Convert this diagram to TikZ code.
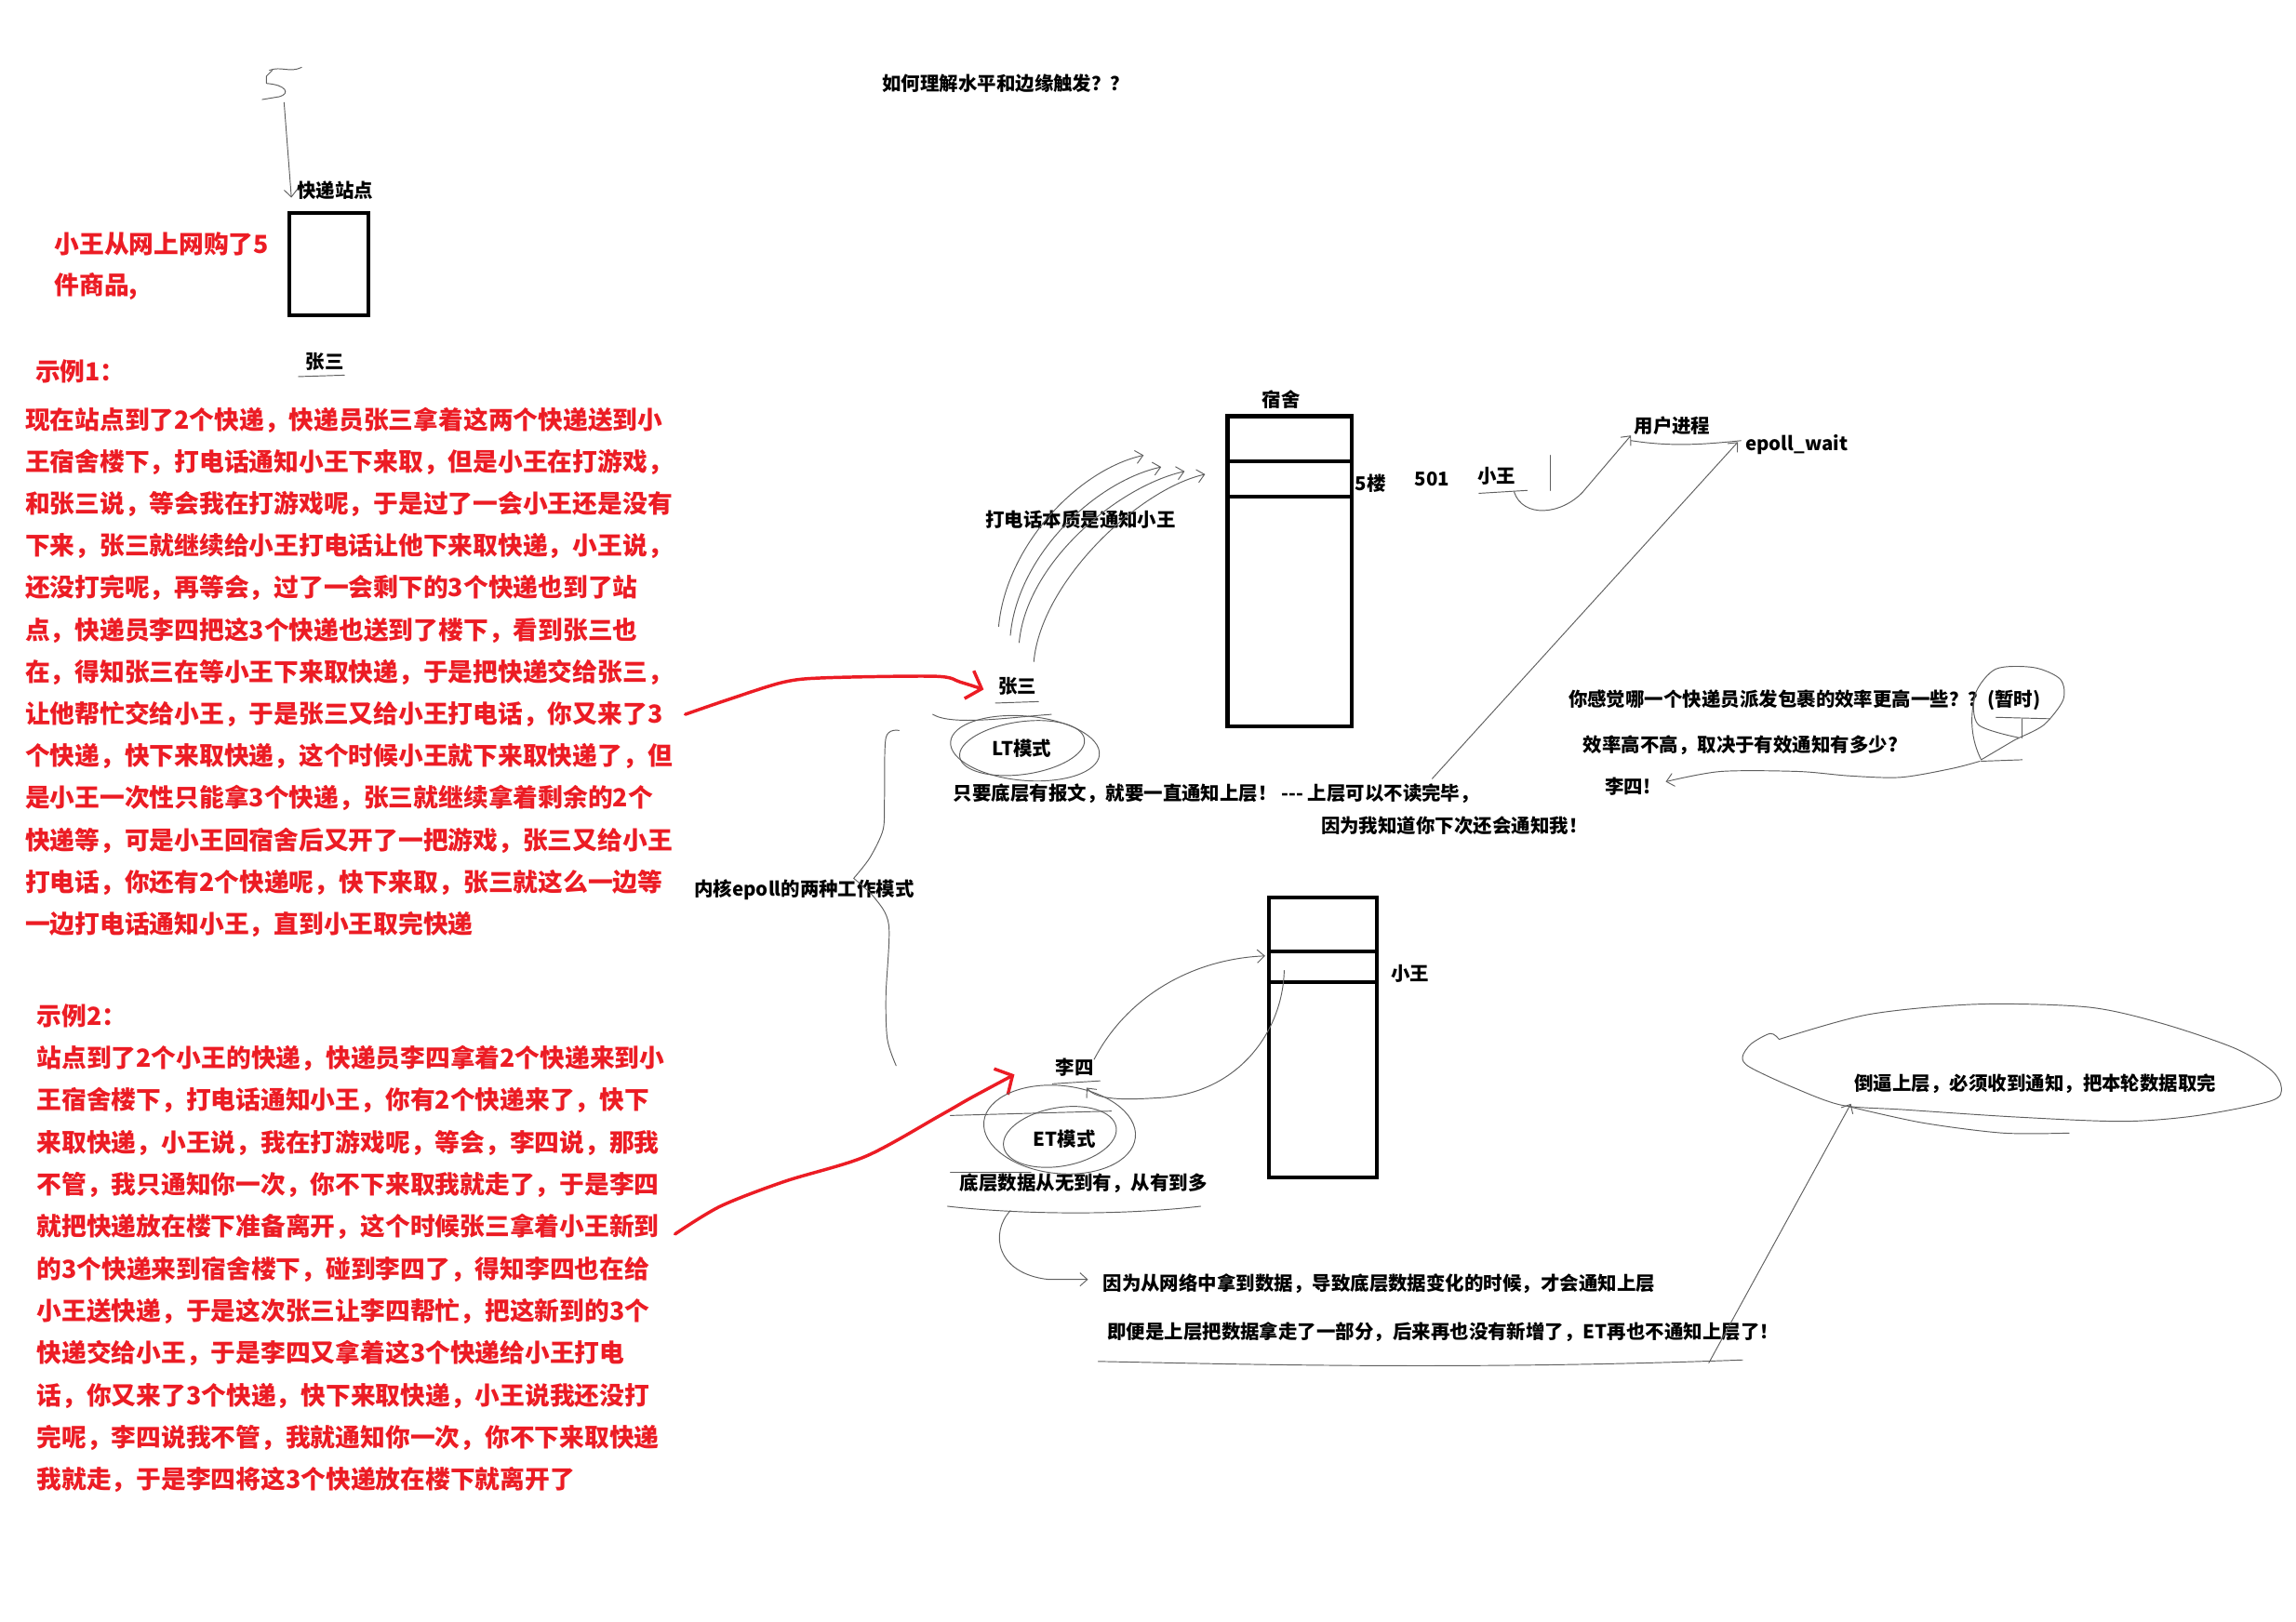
\documentclass[tikz,border=0pt]{standalone}
\usepackage{fontspec}
\setmainfont{Noto Sans CJK SC}
\usetikzlibrary{arrows.meta, positioning, calc}
\definecolor{redink}{RGB}{236,28,36}
\definecolor{penline}{RGB}{95,95,95}

\tikzset{
  lbl/.style={inner sep=0pt, font=\bfseries\fontsize{13}{15}\selectfont},
  leftlbl/.style={lbl, anchor=west},
  redline/.style={inner sep=0pt, anchor=west, text=redink, font=\bfseries\fontsize{17}{20}\selectfont},
  pen/.style={draw=penline, line width=0.6pt, line cap=round, line join=round},
  penarrow/.style={pen, -{Straight Barb[length=5pt, width=9pt]}},
  wall/.style={draw=black, line width=2.6pt},
  redpen/.style={draw=redink, line width=2.2pt, line cap=round, line join=round,
    -{Straight Barb[length=9pt, width=20pt]}},
}

\begin{document}
\begin{tikzpicture}[x=1pt, y=-1pt]
\fill[white] (0,0) rectangle (1568,1108);
\useasboundingbox (0,0) rectangle (1568,1108);

% title
\node[lbl] (title) at (687,57) {如何理解水平和边缘触发？？};

% the station
\node[lbl] (stationlbl) at (229,130) {快递站点};
\node[wall, minimum width=54, minimum height=70, anchor=north west] (station) at (196,144) {};
\node[lbl] (zs0) at (222,247) {张三};
\draw[pen] ($(zs0.south west)+(-5,4)$) -- ($(zs0.south east)+(0,3)$);
\draw[pen] (184,48) .. controls (192,45) and (198,50) .. (206,46);
\draw[pen] (186,48) -- (182,52) -- (182,57) .. controls (196,58) and (198,64) .. (191,66) -- (179,68);
\coordinate (fivefoot) at (194,70);
\coordinate (stationin) at (199,135);
\draw[penarrow] (fivefoot) -- (stationin);

% story text
\node[redline] (buy1) at (37,167) {小王从网上网购了5};
\node[redline] (buy2) at (37,196) {件商品,};
\node[redline] (ex1) at (24,254) {示例1：};
\foreach \ln [count=\k] in {
  现在站点到了2个快递，快递员张三拿着这两个快递送到小,
  王宿舍楼下，打电话通知小王下来取，但是小王在打游戏，,
  和张三说，等会我在打游戏呢，于是过了一会小王还是没有,
  下来，张三就继续给小王打电话让他下来取快递，小王说，,
  还没打完呢，再等会，过了一会剩下的3个快递也到了站,
  点，快递员李四把这3个快递也送到了楼下，看到张三也,
  在，得知张三在等小王下来取快递，于是把快递交给张三，,
  让他帮忙交给小王，于是张三又给小王打电话，你又来了3,
  个快递，快下来取快递，这个时候小王就下来取快递了，但,
  是小王一次性只能拿3个快递，张三就继续拿着剩余的2个,
  快递等，可是小王回宿舍后又开了一把游戏，张三又给小王,
  打电话，你还有2个快递呢，快下来取，张三就这么一边等,
  一边打电话通知小王，直到小王取完快递}
  \node[redline] (exa\k) at (17,{287+28.7*(\k-1)}) {\ln};
\node[redline] (ex2) at (25,694) {示例2：};
\foreach \ln [count=\k] in {
  站点到了2个小王的快递，快递员李四拿着2个快递来到小,
  王宿舍楼下，打电话通知小王，你有2个快递来了，快下,
  来取快递，小王说，我在打游戏呢，等会，李四说，那我,
  不管，我只通知你一次，你不下来取我就走了，于是李四,
  就把快递放在楼下准备离开，这个时候张三拿着小王新到,
  的3个快递来到宿舍楼下，碰到李四了，得知李四也在给,
  小王送快递，于是这次张三让李四帮忙，把这新到的3个,
  快递交给小王，于是李四又拿着这3个快递给小王打电,
  话，你又来了3个快递，快下来取快递，小王说我还没打,
  完呢，李四说我不管，我就通知你一次，你不下来取快递,
  我就走，于是李四将这3个快递放在楼下就离开了}
  \node[redline] (exb\k) at (25,{723+28.8*(\k-1)}) {\ln};

% dorm
\node[lbl] (dormlbl) at (875,273) {宿舍};
\node[wall, minimum width=85, minimum height=212, anchor=north west] (dorm) at (837,283) {};
\draw[wall] (dorm.west |- 0,315) -- (dorm.east |- 0,315);
\draw[wall] (dorm.west |- 0,339) -- (dorm.east |- 0,339);
\node[lbl] (floor5) at (936,330) {5楼};
\node[lbl] (room) at (978,327) {501};
\node[lbl] (xw) at (1022,325) {小王};
\draw[pen] (1059,311) -- (1059,335);
\draw[pen] (1010,337) -- (1043,335);
\node[lbl] (proc) at (1142,291) {用户进程};
\node[lbl] (ew) at (1227,304) {epoll\_wait};
\draw[penarrow] (1034,336) .. controls (1040,354) and (1066,352) .. (1081,336) -- ($(proc.south west)+(-2,0)$);
\draw[pen] (1114,301) .. controls (1140,305) and (1160,304) .. (1189,301);
\coordinate (ewin) at ($(ew.west)+(-5,-2)$);

% calls
\node[lbl] (callnote) at (738,355) {打电话本质是通知小王};
\foreach \sx/\sy/\ex/\ey in {682/428/781/311, 690/434/793/319, 696/439/809/322, 706/452/823/324}
  \draw[penarrow] (\sx,\sy) .. controls +(5,-55) and +(-45,10) .. (\ex,\ey);

% LT
\node[lbl] (zs) at (695,469) {张三};
\draw[pen] ($(zs.south west)+(-2,5)$) -- ($(zs.south east)+(1,4)$);
\coordinate (redA) at (468,488);
\coordinate (zsin) at ($(zs.west)+(-10,2)$);
\draw[redpen] plot[smooth] coordinates {(redA) (497,478) (535,466) (564,463) (639,462) (656,466) (zsin)};
\node[lbl] (lt) at (698,511) {LT模式};
\draw[pen, rotate around={-5:(lt.center)}] ([xshift=2pt]lt.center) ellipse [x radius=51, y radius=22];
\draw[pen, rotate around={8:(lt.center)}] (lt.center) ellipse [x radius=43, y radius=18];
\draw[pen] (637,488) .. controls (650,496) and (690,490) .. (718,488);
\node[leftlbl] (ltnote) at (651,542) {只要底层有报文，就要一直通知上层！ -{}-{}- 上层可以不读完毕，};
\node[leftlbl] (ltnote2) at (902,564) {因为我知道你下次还会通知我！};
\coordinate (ltup) at (978,532);
\draw[penarrow] (ltup) -- (ewin);

% two modes
\node[leftlbl] (modes) at (474,608) {内核epoll的两种工作模式};
\draw[pen] plot[smooth] coordinates {(614,499) (605,504) (604,547) (603,567) (594,586) (583,600)};
\draw[pen] plot[smooth] coordinates {(583,600) (597,613) (607,632) (605,680) (606,710) (612,728)};

% ET
\node[lbl] (hallxw) at (963,665) {小王};
\node[wall, minimum width=74, minimum height=191, anchor=north west] (hall) at (865,612) {};
\draw[wall] (hall.west |- 0,650) -- (hall.east |- 0,650);
\draw[wall] (hall.west |- 0,671) -- (hall.east |- 0,671);
\node[lbl] (ls) at (734,729) {李四};
\draw[pen] ($(ls.south west)+(-2,5)$) -- ($(ls.south east)+(4,3)$);
\coordinate (redB) at (461,843);
\coordinate (lsin) at ($(ls.west)+(-28,5)$);
\draw[redpen] plot[smooth] coordinates {(redB) (492,824) (536,807) (591,790) (642,762) (663,750) (lsin)};
\coordinate (hallin) at (877,663);
\coordinate (hallwall) at (864,653);
\draw[penarrow] ($(ls.north east)+(0,1)$) .. controls (770,680) and (815,655) .. (hallwall);
\draw[penarrow] (hallin) .. controls (876,705) and (845,748) .. (790,750) .. controls (760,752) and (748,750) .. (742,743);
\node[lbl] (et) at (727,778) {ET模式};
\draw[pen, rotate around={-6:(et.center)}] ([shift={(-4,-6)}]et.center) ellipse [x radius=52, y radius=30];
\draw[pen, rotate around={10:(et.center)}] ([shift={(-3,-2)}]et.center) ellipse [x radius=39, y radius=20];
\draw[pen] (649,762) -- (759,759);
\draw[pen] (649,801) -- (704,801);
\node[lbl] (etnote) at (740,808) {底层数据从无到有，从有到多};
\draw[pen] (647,824) .. controls (690,829) and (760,831) .. (820,824);
\node[leftlbl] (etwhy) at (753,877) {因为从网络中拿到数据，导致底层数据变化的时候，才会通知上层};
\draw[penarrow] (690,827) .. controls (676,842) and (680,870) .. (716,874) -- ($(etwhy.west)+(-10,-3)$);
\node[leftlbl] (etnote2) at (756,910) {即便是上层把数据拿走了一部分，后来再也没有新增了，ET再也不通知上层了！};
\draw[pen] (750,930) .. controls (850,932) and (1000,936) .. (1190,929);

% forcing
\node[lbl] (force) at (1390,740) {倒逼上层，必须收到通知，把本轮数据取完};
\draw[pen] plot[smooth] coordinates {(1215,710) (1276,693) (1350,686) (1426,688) (1476,699) (1526,716)
  (1551,731) (1558,743) (1551,752) (1501,762) (1450,766) (1376,763) (1300,758) (1258,755)
  (1225,743) (1195,729) (1190,722) (1196,713) (1209,706) (1215,710)};
\draw[pen] plot[smooth] coordinates {(1263,756) (1313,767) (1368,774) (1413,774)};
\coordinate (forcefoot) at (1167,931);
\coordinate (forcein) at (1264,754);
\draw[penarrow] (forcefoot) -- (forcein);

% question
\node[leftlbl] (q) at (1071,478) {你感觉哪一个快递员派发包裹的效率更高一些？？(暂时)};
\node[leftlbl] (ans1) at (1081,509) {效率高不高，取决于有效通知有多少?};
\node[leftlbl] (ans2) at (1096,537) {李四!};
\draw[pen] plot[smooth] coordinates {(1379,504) (1351,495) (1349,474) (1363,457) (1389,456) (1407,464)
  (1409,478) (1396,495) (1379,504) (1375,506) (1353,519)};
\draw[pen] (1349,474) .. controls (1345,490) and (1346,505) .. (1353,519);
\draw[pen] (1363,490) -- (1400,491);
\draw[pen] (1381,491) -- (1381,504);
\draw[pen] (1353,520) -- (1381,519);
\draw[penarrow] plot[smooth] coordinates {(1352,520) (1333,525) (1298,531) (1263,530) (1228,527)
  (1175,527) ($(ans2.east)+(10,-3)$)};
\end{tikzpicture}
\end{document}
